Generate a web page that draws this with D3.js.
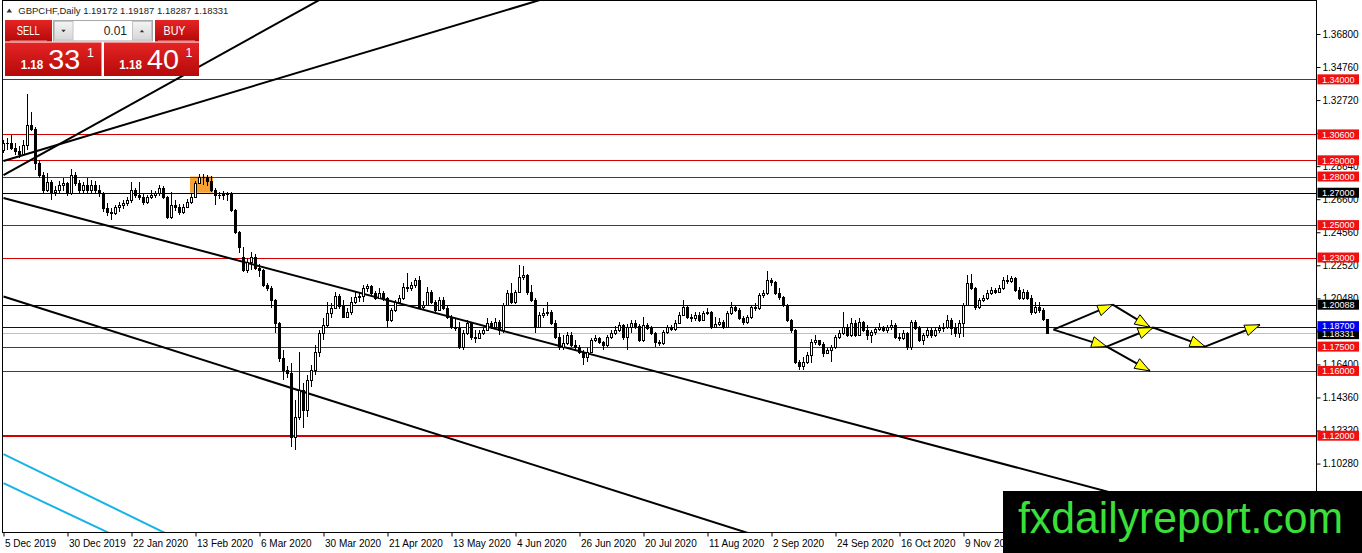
<!DOCTYPE html>
<html>
<head>
<meta charset="utf-8">
<script src="https://cdn.jsdelivr.net/npm/d3@7"></script>
<style>
  html, body { margin: 0; padding: 0; background: #fff; overflow: hidden; }
  svg { display: block; font-family: "Liberation Sans", Arial, sans-serif; }
</style>
</head>
<body>
<div id="chart"></div>
<script>

// daily bars, GBPCHF (bar 0 = 5 Dec 2019)
var opens = [1.2963,1.3007,1.3001,1.2976,1.2957,1.2933,1.2994,1.3118,1.3093,1.2883,
  1.2809,1.2716,1.2766,1.2704,1.2716,1.2747,1.2760,1.2698,1.2809,1.2760,
  1.2716,1.2747,1.2716,1.2747,1.2716,1.2698,1.2605,1.2581,1.2574,1.2611,
  1.2624,1.2636,1.2655,1.2716,1.2686,1.2673,1.2642,1.2673,1.2686,1.2698,
  1.2729,1.2673,1.2550,1.2624,1.2611,1.2581,1.2611,1.2642,1.2673,1.2760,
  1.2797,1.2791,1.2772,1.2716,1.2680,1.2686,1.2692,1.2698,1.2593,1.2457,
  1.2300,1.2222,1.2272,1.2302,1.2235,1.2222,1.2130,1.2111,1.2037,1.1895,
  1.1679,1.1605,1.1586,1.1191,1.1314,1.1481,1.1358,1.1543,1.1605,1.1716,
  1.1833,1.1883,1.1957,1.1988,1.2062,1.2000,1.1932,1.1963,1.2025,1.2056,
  1.2062,1.2111,1.2124,1.2080,1.2049,1.2080,1.2049,1.1913,1.1975,1.2025,
  1.2049,1.2117,1.2111,1.2130,1.2161,1.1994,1.2006,1.2086,1.2025,1.1975,
  1.2037,1.1988,1.1932,1.1870,1.1864,1.1747,1.1833,1.1895,1.1808,1.1802,
  1.1833,1.1852,1.1895,1.1870,1.1901,1.1852,1.2006,1.2080,1.2025,1.2086,
  1.2179,1.2191,1.2086,1.2037,1.1870,1.1944,1.1957,1.1963,1.1895,1.1808,
  1.1747,1.1771,1.1821,1.1759,1.1747,1.1716,1.1685,1.1716,1.1790,1.1802,
  1.1777,1.1759,1.1808,1.1833,1.1852,1.1883,1.1808,1.1870,1.1895,1.1876,
  1.1790,1.1883,1.1864,1.1833,1.1777,1.1771,1.1839,1.1870,1.1858,1.1895,
  1.1944,1.1994,1.1932,1.1926,1.1944,1.1913,1.1957,1.1963,1.1870,1.1889,
  1.1901,1.1870,1.1957,1.1994,1.1975,1.1926,1.1901,1.1932,1.1994,1.1988,
  1.2068,1.2080,1.2161,1.2148,1.2080,1.2056,1.2006,1.1913,1.1852,1.1654,
  1.1630,1.1654,1.1697,1.1777,1.1790,1.1765,1.1710,1.1728,1.1747,1.1808,
  1.1833,1.1870,1.1821,1.1895,1.1821,1.1901,1.1852,1.1821,1.1839,1.1858,
  1.1870,1.1852,1.1870,1.1883,1.1808,1.1802,1.1833,1.1747,1.1901,1.1864,
  1.1790,1.1821,1.1852,1.1821,1.1852,1.1864,1.1870,1.1913,1.1864,1.1833,
  1.1895,1.2006,1.2142,1.2111,1.1994,1.2037,1.2049,1.2080,1.2099,1.2086,
  1.2111,1.2161,1.2154,1.2173,1.2099,1.2049,1.2086,1.2049,1.1963,1.1994,
  1.1975,1.19172];

var highs = [1.3025,1.3038,1.3056,1.3007,1.2988,1.3025,1.3309,1.3198,1.3106,1.2902,
  1.2827,1.2821,1.2778,1.2741,1.2772,1.2791,1.2766,1.2846,1.2827,1.2778,
  1.2766,1.2791,1.2778,1.2772,1.2747,1.2704,1.2636,1.2605,1.2624,1.2642,
  1.2655,1.2673,1.2766,1.2729,1.2766,1.2692,1.2686,1.2716,1.2710,1.2747,
  1.2740,1.2680,1.2704,1.2655,1.2630,1.2630,1.2661,1.2692,1.2772,1.2815,
  1.2815,1.2809,1.2803,1.2729,1.2704,1.2710,1.2704,1.2704,1.2599,1.2463,
  1.2364,1.2296,1.2333,1.2321,1.2259,1.2228,1.2142,1.2124,1.2043,1.1901,
  1.1728,1.1629,1.1648,1.1419,1.1716,1.1524,1.1574,1.1636,1.1759,1.1852,
  1.1926,1.2025,1.2018,1.2086,1.2074,1.2037,1.1988,1.2056,1.2086,1.2086,
  1.2130,1.2136,1.2130,1.2093,1.2111,1.2093,1.2056,1.1988,1.2037,1.2068,
  1.2142,1.2204,1.2148,1.2173,1.2185,1.2031,1.2117,1.2099,1.2037,1.2056,
  1.2056,1.2000,1.1944,1.1926,1.1901,1.1852,1.1913,1.1901,1.1852,1.1852,
  1.1864,1.1926,1.1907,1.1926,1.1913,1.2018,1.2099,1.2142,1.2099,1.2253,
  1.2247,1.2197,1.2130,1.2049,1.1963,1.1988,1.2025,1.1975,1.1913,1.1833,
  1.1821,1.1839,1.1839,1.1790,1.1759,1.1728,1.1740,1.1802,1.1821,1.1808,
  1.1783,1.1821,1.1852,1.1876,1.1901,1.1889,1.1889,1.1913,1.1913,1.1889,
  1.1932,1.1895,1.1876,1.1839,1.1790,1.1852,1.1883,1.1883,1.1913,1.1963,
  1.2037,1.2006,1.1950,1.1963,1.1963,1.1969,1.1988,1.1969,1.1932,1.1926,
  1.1913,1.1969,1.2025,1.2006,1.1988,1.1938,1.1944,1.2006,1.2018,1.2080,
  1.2099,1.2216,1.2173,1.2154,1.2111,1.2062,1.2012,1.1920,1.1858,1.1667,
  1.1685,1.1716,1.1796,1.1821,1.1790,1.1777,1.1740,1.1759,1.1821,1.1852,
  1.1963,1.1889,1.1926,1.1913,1.1926,1.1907,1.1883,1.1852,1.1870,1.1895,
  1.1876,1.1883,1.1913,1.1895,1.1833,1.1852,1.1840,1.1913,1.1913,1.1876,
  1.1833,1.1870,1.1864,1.1870,1.1883,1.1895,1.1944,1.1926,1.1895,1.1913,
  1.2018,1.2191,1.2197,1.2117,1.2049,1.2068,1.2099,1.2117,1.2111,1.2130,
  1.2179,1.2191,1.2185,1.2180,1.2117,1.2105,1.2099,1.2068,1.2025,1.2025,
  1.1988,1.19187];

var lows = [1.2945,1.2963,1.2963,1.2933,1.2914,1.2925,1.2963,1.3081,1.2840,1.2791,
  1.2698,1.2704,1.2655,1.2680,1.2692,1.2710,1.2680,1.2686,1.2741,1.2692,
  1.2698,1.2698,1.2698,1.2692,1.2673,1.2581,1.2556,1.2531,1.2562,1.2581,
  1.2599,1.2618,1.2636,1.2667,1.2655,1.2624,1.2630,1.2661,1.2667,1.2680,
  1.2661,1.2537,1.2540,1.2587,1.2562,1.2568,1.2605,1.2630,1.2667,1.2753,
  1.2747,1.2741,1.2704,1.2624,1.2661,1.2655,1.2648,1.2581,1.2445,1.2327,
  1.2210,1.2204,1.2222,1.2222,1.2179,1.2117,1.2093,1.1988,1.1833,1.1654,
  1.1543,1.1555,1.1129,1.1110,1.1296,1.1246,1.1314,1.1500,1.1574,1.1685,
  1.1790,1.1870,1.1926,1.1982,1.1982,1.1926,1.1925,1.1944,1.2012,1.2025,
  1.2025,1.2086,1.2068,1.2037,1.2043,1.2031,1.1864,1.1901,1.1963,1.2012,
  1.2037,1.2086,1.2093,1.2111,1.1982,1.1982,1.2000,1.2012,1.1963,1.1969,
  1.1975,1.1920,1.1858,1.1845,1.1734,1.1728,1.1821,1.1790,1.1771,1.1796,
  1.1821,1.1845,1.1858,1.1864,1.1821,1.1833,1.2000,1.2012,1.2012,1.2080,
  1.2161,1.2068,1.2025,1.1833,1.1864,1.1926,1.1938,1.1883,1.1796,1.1728,
  1.1728,1.1759,1.1747,1.1728,1.1703,1.1636,1.1654,1.1710,1.1777,1.1765,
  1.1728,1.1747,1.1796,1.1821,1.1839,1.1790,1.1728,1.1833,1.1858,1.1777,
  1.1780,1.1852,1.1821,1.1747,1.1753,1.1759,1.1827,1.1845,1.1845,1.1889,
  1.1938,1.1920,1.1901,1.1907,1.1901,1.1907,1.1944,1.1858,1.1864,1.1876,
  1.1858,1.1864,1.1944,1.1963,1.1913,1.1883,1.1889,1.1920,1.1969,1.1975,
  1.2049,1.2068,1.2124,1.2068,1.2037,1.1994,1.1901,1.1833,1.1642,1.1605,
  1.1605,1.1642,1.1648,1.1759,1.1753,1.1685,1.1703,1.1654,1.1734,1.1796,
  1.1821,1.1808,1.1808,1.1808,1.1815,1.1839,1.1790,1.1771,1.1821,1.1845,
  1.1839,1.1833,1.1852,1.1796,1.1783,1.1790,1.1728,1.1728,1.1852,1.1777,
  1.1759,1.1802,1.1802,1.1808,1.1833,1.1839,1.1858,1.1821,1.1808,1.1802,
  1.1808,1.2000,1.2099,1.1975,1.1982,1.2025,1.2037,1.2068,1.2074,1.2080,
  1.2099,1.2136,1.2142,1.2086,1.2037,1.2037,1.2037,1.1944,1.1950,1.1957,
  1.1907,1.18287];

var closes = [1.3007,1.3001,1.2976,1.2957,1.2933,1.2994,1.3118,1.3093,1.2883,1.2809,
  1.2716,1.2766,1.2704,1.2716,1.2747,1.2760,1.2698,1.2809,1.2760,1.2716,
  1.2747,1.2716,1.2747,1.2716,1.2698,1.2605,1.2581,1.2574,1.2611,1.2624,
  1.2636,1.2655,1.2716,1.2686,1.2673,1.2642,1.2673,1.2686,1.2698,1.2729,
  1.2673,1.2550,1.2624,1.2611,1.2581,1.2611,1.2642,1.2673,1.2760,1.2797,
  1.2791,1.2772,1.2716,1.2680,1.2686,1.2692,1.2698,1.2593,1.2457,1.2364,
  1.2222,1.2272,1.2302,1.2235,1.2222,1.2130,1.2111,1.2037,1.1895,1.1679,
  1.1605,1.1586,1.1191,1.1314,1.1481,1.1358,1.1543,1.1605,1.1716,1.1833,
  1.1883,1.1957,1.1988,1.2062,1.2000,1.1932,1.1963,1.2025,1.2056,1.2062,
  1.2111,1.2124,1.2080,1.2049,1.2080,1.2049,1.1913,1.1975,1.2025,1.2049,
  1.2117,1.2111,1.2130,1.2161,1.1994,1.2006,1.2086,1.2025,1.1975,1.2037,
  1.1988,1.1932,1.1870,1.1864,1.1747,1.1833,1.1895,1.1808,1.1802,1.1833,
  1.1852,1.1895,1.1870,1.1901,1.1852,1.2006,1.2080,1.2025,1.2086,1.2179,
  1.2191,1.2086,1.2037,1.1870,1.1944,1.1957,1.1963,1.1895,1.1808,1.1747,
  1.1771,1.1821,1.1759,1.1747,1.1716,1.1685,1.1716,1.1790,1.1802,1.1777,
  1.1759,1.1808,1.1833,1.1852,1.1883,1.1808,1.1870,1.1895,1.1876,1.1790,
  1.1883,1.1864,1.1833,1.1777,1.1771,1.1839,1.1870,1.1858,1.1895,1.1944,
  1.1994,1.1932,1.1926,1.1944,1.1913,1.1957,1.1963,1.1870,1.1889,1.1901,
  1.1870,1.1957,1.1994,1.1975,1.1926,1.1901,1.1932,1.1994,1.1988,1.2068,
  1.2080,1.2161,1.2148,1.2080,1.2056,1.2006,1.1913,1.1852,1.1654,1.1630,
  1.1654,1.1697,1.1777,1.1790,1.1765,1.1710,1.1728,1.1747,1.1808,1.1833,
  1.1870,1.1821,1.1895,1.1821,1.1901,1.1852,1.1821,1.1839,1.1858,1.1870,
  1.1852,1.1870,1.1883,1.1808,1.1802,1.1833,1.1747,1.1901,1.1864,1.1790,
  1.1821,1.1852,1.1821,1.1852,1.1864,1.1870,1.1913,1.1864,1.1833,1.1895,
  1.2006,1.2142,1.2111,1.1994,1.2037,1.2049,1.2080,1.2099,1.2086,1.2111,
  1.2161,1.2154,1.2173,1.2099,1.2049,1.2086,1.2049,1.1963,1.1994,1.1975,
  1.19172,1.18331];

var askPrice = 1.18401;

// time axis labels (bar index -> label)
var xTickBars = [0,16,32,48,64,80,96,112,128,144,160,176,192,208,224,240,256];
var xTickLabels = ["5 Dec 2019","30 Dec 2019","22 Jan 2020","13 Feb 2020","6 Mar 2020",
  "30 Mar 2020","21 Apr 2020","13 May 2020","4 Jun 2020","26 Jun 2020","20 Jul 2020",
  "11 Aug 2020","2 Sep 2020","24 Sep 2020","16 Oct 2020","9 Nov 2020","1 Dec 2020"];

// price axis ticks
var yTicks = [1.368,1.3476,1.3272,1.3068,1.2864,1.266,1.2456,1.2252,1.2048,1.1844,
  1.164,1.1436,1.1232,1.1028];

// horizontal levels
var redLevels = [1.34,1.306,1.29,1.28,1.25,1.23,1.175,1.16,1.12];
var blackLevels = [1.27,1.20088];
var blueLevels = [1.187];

// orange rectangle (bars, prices)
var boxBars = [47,52];
var boxPrices = [1.28,1.27];

// trend lines as [bar, price] pairs (rays to the right)
var trendLines = [
  [[0,1.2809],[77.5,1.3870]],
  [[0,1.2896],[132.5,1.3878]],
  [[0,1.2667],[281.25,1.0820]],
  [[0,1.2059],[185.5,1.0604]]
];
var cyanLines = [
  [[0,1.1086],[40,1.0604]],
  [[0,1.0907],[26,1.0604]]
];

// projected path arrows
var arrowSegments = [
  [[262.5,1.1855],[277.3,1.2009]],
  [[277.3,1.2009],[286.6,1.1870]],
  [[262.5,1.1855],[275.8,1.1750]],
  [[275.8,1.1750],[287.4,1.1868]],
  [[275.8,1.1750],[286.6,1.1600]],
  [[287.4,1.1868],[300.4,1.1750]],
  [[300.4,1.1750],[314.1,1.1885]]
];

var symbol = "GBPCHF,Daily";
var lotSize = "0.01";

var svgWidth = 1362;
var svgHeight = 553;
var plotRight = 1316.5;
var plotBottom = 532.5;
var font = "Liberation Sans, Arial, sans-serif";

var svg = d3.select("#chart").append("svg")
  .attr("width", svgWidth)
  .attr("height", svgHeight);

var x = d3.scaleLinear().domain([0, 261]).range([3.5, 1047.5]);
var y = d3.scaleLinear().domain([1.368, 1.12]).range([34, 435.7]);
var fmt = d3.format(".5f");

var defs = svg.append("defs");
defs.append("clipPath").attr("id", "plotClip")
  .append("rect").attr("x", 3).attr("y", 1).attr("width", 1313).attr("height", 531);
var grad = defs.append("linearGradient").attr("id", "redGrad")
  .attr("x1", 0).attr("y1", 0).attr("x2", 0).attr("y2", 1);
grad.append("stop").attr("offset", "0%").attr("stop-color", "#e52424");
grad.append("stop").attr("offset", "100%").attr("stop-color", "#b50909");
var greyGrad = defs.append("linearGradient").attr("id", "greyGrad")
  .attr("x1", 0).attr("y1", 0).attr("x2", 0).attr("y2", 1);
greyGrad.append("stop").attr("offset", "0%").attr("stop-color", "#f4f4f4");
greyGrad.append("stop").attr("offset", "100%").attr("stop-color", "#d6d6d6");

var plotG = svg.append("g").attr("clip-path", "url(#plotClip)");

// orange rectangle
plotG.append("rect")
  .attr("x", x(boxBars[0]) - 1.5)
  .attr("width", x(boxBars[1]) - x(boxBars[0]) + 3)
  .attr("y", y(boxPrices[0]))
  .attr("height", y(boxPrices[1]) - y(boxPrices[0]))
  .attr("fill", "#f7a034");

// horizontal levels
var levels = [];
redLevels.forEach(function(p) { levels.push({p: p, line: "#d40000", label: "#f01010"}); });
blackLevels.forEach(function(p) { levels.push({p: p, line: "#000", label: "#000"}); });
blueLevels.forEach(function(p) { levels.push({p: p, line: "#0000a8", label: "#0000f0"}); });
var lastClose = closes[closes.length - 1];

plotG.append("line")
  .attr("x1", 3).attr("x2", plotRight)
  .attr("y1", Math.round(y(lastClose)) + 0.5).attr("y2", Math.round(y(lastClose)) + 0.5)
  .attr("stroke", "#c0c0c0").attr("stroke-width", 1);

plotG.selectAll("line.level")
  .data(levels)
  .enter()
  .append("line")
  .attr("class", "level")
  .attr("x1", 3).attr("x2", plotRight)
  .attr("y1", d => d.p === 1.12 ? Math.round(y(d.p)) : Math.round(y(d.p)) + 0.5)
  .attr("y2", d => d.p === 1.12 ? Math.round(y(d.p)) : Math.round(y(d.p)) + 0.5)
  .attr("stroke", d => d.line)
  .attr("stroke-width", d => d.p === 1.12 ? 2 : 1);

// trend lines, extended to the right and clipped
function rayPath(seg) {
  var a = seg[0], b = seg[1];
  var slope = (b[1] - a[1]) / (b[0] - a[0]);
  var farBar = 420;
  return "M" + x(a[0]) + "," + y(a[1]) + "L" + x(farBar) + "," + y(a[1] + slope * (farBar - a[0]));
}

plotG.selectAll("path.trend")
  .data(trendLines)
  .enter()
  .append("path")
  .attr("class", "trend")
  .attr("d", rayPath)
  .attr("stroke", "#000")
  .attr("stroke-width", 2)
  .attr("fill", "none");

plotG.selectAll("path.cyan")
  .data(cyanLines)
  .enter()
  .append("path")
  .attr("class", "cyan")
  .attr("d", rayPath)
  .attr("stroke", "#16b4e6")
  .attr("stroke-width", 2)
  .attr("fill", "none");

// candles
var bars = d3.range(closes.length);

plotG.selectAll("line.wick")
  .data(bars)
  .enter()
  .append("line")
  .attr("class", "wick")
  .attr("x1", i => x(i)).attr("x2", i => x(i))
  .attr("y1", i => y(highs[i])).attr("y2", i => y(lows[i]))
  .attr("stroke", "#000")
  .attr("stroke-width", 1)
  .attr("shape-rendering", "crispEdges");

plotG.selectAll("path.body")
  .data(bars)
  .enter()
  .append("path")
  .attr("class", "body")
  .attr("d", function(i) {
    var top = y(Math.max(opens[i], closes[i]));
    var bot = y(Math.min(opens[i], closes[i]));
    var x0 = x(i) - 1, x1 = x(i) + 1;
    return "M" + x0 + "," + top + "H" + x1 + "V" + bot + "H" + x0 + "Z";
  })
  .attr("fill", i => closes[i] > opens[i] ? "#fff" : "#000")
  .attr("stroke", "#000")
  .attr("stroke-width", 1)
  .attr("shape-rendering", "crispEdges");

// arrows
function pt(d) { return [x(d[0]), y(d[1])]; }

var arrowG = svg.append("g");
arrowSegments.forEach(function(seg) {
  var p0 = pt(seg[0]), p1 = pt(seg[1]);
  arrowG.append("line")
    .attr("x1", p0[0]).attr("y1", p0[1])
    .attr("x2", p1[0]).attr("y2", p1[1])
    .attr("stroke", "#000")
    .attr("stroke-width", 2);
  var dx = p1[0] - p0[0], dy = p1[1] - p0[1], len = Math.hypot(dx, dy);
  var ux = dx / len, uy = dy / len;
  var bx = p1[0] - ux * 15, by = p1[1] - uy * 15;
  var head = [[p1[0], p1[1]], [bx - uy * 5.5, by + ux * 5.5], [bx + uy * 5.5, by - ux * 5.5]];
  arrowG.append("path")
    .attr("d", d3.line()(head) + "Z")
    .attr("fill", "#ffff00")
    .attr("stroke", "#000")
    .attr("stroke-width", 1);
});

// price axis: tick texts that sit fully under a level label are hidden
var labelPrices = levels.map(d => d.p).concat([lastClose]);

var yAxis = d3.axisRight(y).tickValues(yTicks).tickFormat(fmt).tickSize(4).tickPadding(2);
svg.append("g")
  .attr("transform", "translate(" + plotRight + ",0)")
  .attr("font-size", 9)
  .attr("font-family", font)
  .call(yAxis)
  .call(g => g.select(".domain").remove())
  .call(g => g.selectAll(".tick")
    .filter(d => labelPrices.some(p => Math.abs(y(p) - y(d)) < 5))
    .select("text").remove());

var xAxis = d3.axisBottom(x)
  .tickValues(xTickBars)
  .tickFormat((d, k) => xTickLabels[k])
  .tickSize(4)
  .tickPadding(3);
svg.append("g")
  .attr("transform", "translate(0," + plotBottom + ")")
  .attr("font-size", 9)
  .attr("font-family", font)
  .call(xAxis)
  .call(g => g.select(".domain").remove())
  .call(g => g.selectAll("text").attr("text-anchor", "start").attr("x", 1));

// frame
svg.append("path")
  .attr("d", "M2.5,0.5H" + plotRight + "V" + plotBottom + "H2.5Z")
  .attr("fill", "none")
  .attr("stroke", "#000")
  .attr("stroke-width", 1)
  .attr("shape-rendering", "crispEdges");

// level labels on the axis
var labelG = svg.append("g").attr("font-family", font).attr("font-size", 9);
function axisLabel(p, color, dy) {
  labelG.append("rect")
    .attr("x", 1317.5).attr("y", y(p) - 5 + dy)
    .attr("width", 41.5).attr("height", 10)
    .attr("fill", color);
  labelG.append("text")
    .attr("x", 1322).attr("y", y(p) + 3.3 + dy)
    .attr("fill", "#fff")
    .text(fmt(p));
}
levels.filter(d => blueLevels.indexOf(d.p) < 0).forEach(d => axisLabel(d.p, d.label, 0));
axisLabel(lastClose, "#000", 1);
levels.filter(d => blueLevels.indexOf(d.p) >= 0).forEach(d => axisLabel(d.p, d.label, -1));

// header line
var last = closes.length - 1;
svg.append("path")
  .attr("d", "M6.5,12.5L12,12.5L9.25,8.5Z")
  .attr("fill", "#333");
svg.append("text")
  .attr("x", 18.3).attr("y", 14)
  .attr("font-family", font).attr("font-size", 9.5)
  .attr("fill", "#222")
  .attr("textLength", 210)
  .attr("lengthAdjust", "spacingAndGlyphs")
  .text(symbol + "  " + [opens[last], highs[last], lows[last], closes[last]].map(fmt).join(" "));

// one-click trading panel
var panel = svg.append("g").attr("font-family", font);
panel.append("rect").attr("x", 5).attr("y", 20).attr("width", 47).attr("height", 21.5).attr("fill", "url(#redGrad)");
panel.append("rect").attr("x", 155).attr("y", 20).attr("width", 44).attr("height", 21.5).attr("fill", "url(#redGrad)");
panel.append("line").attr("x1", 10).attr("x2", 47).attr("y1", 41).attr("y2", 41).attr("stroke", "#f29a9a").attr("stroke-width", 1);
panel.append("line").attr("x1", 158).attr("x2", 195).attr("y1", 41).attr("y2", 41).attr("stroke", "#f29a9a").attr("stroke-width", 1);
panel.append("text").attr("x", 28.3).attr("y", 35.3).attr("text-anchor", "middle")
  .attr("font-size", 12.5).attr("fill", "#fff").attr("textLength", 23).attr("lengthAdjust", "spacingAndGlyphs").text("SELL");
panel.append("text").attr("x", 174.5).attr("y", 35.3).attr("text-anchor", "middle")
  .attr("font-size", 12.5).attr("fill", "#fff").attr("textLength", 22).attr("lengthAdjust", "spacingAndGlyphs").text("BUY");

panel.append("rect").attr("x", 53.5).attr("y", 20.5).attr("width", 99).attr("height", 20.5)
  .attr("fill", "#fff").attr("stroke", "#a8a8a8");
panel.append("rect").attr("x", 54.5).attr("y", 21.5).attr("width", 18.5).attr("height", 18.5)
  .attr("fill", "url(#greyGrad)").attr("stroke", "#c4c4c4");
panel.append("rect").attr("x", 132.5).attr("y", 21.5).attr("width", 19).attr("height", 18.5)
  .attr("fill", "url(#greyGrad)").attr("stroke", "#c4c4c4");
panel.append("path").attr("d", "M61.3,29.8L65.7,29.8L63.5,32.3Z").attr("fill", "#333");
panel.append("path").attr("d", "M139.8,32.3L144.2,32.3L142,29.8Z").attr("fill", "#333");
panel.append("text").attr("x", 127).attr("y", 35).attr("text-anchor", "end")
  .attr("font-size", 12).attr("fill", "#222").text(lotSize);

panel.append("rect").attr("x", 5).attr("y", 42.5).attr("width", 96.5).attr("height", 33.5).attr("fill", "url(#redGrad)");
panel.append("rect").attr("x", 104).attr("y", 42.5).attr("width", 95).attr("height", 33.5).attr("fill", "url(#redGrad)");

function priceText(str, x0) {
  panel.append("text").attr("x", x0).attr("y", 69.3)
    .attr("font-size", 12).attr("font-weight", "bold").attr("fill", "#fff")
    .attr("textLength", 22.6).attr("lengthAdjust", "spacingAndGlyphs")
    .text(str.slice(0, 4));
  panel.append("text").attr("x", x0 + 27.6).attr("y", 69.3)
    .attr("font-size", 28).attr("fill", "#fff")
    .attr("textLength", 32).attr("lengthAdjust", "spacingAndGlyphs")
    .text(str.slice(4, 6));
  panel.append("text").attr("x", x0 + 66.3).attr("y", 56.5)
    .attr("font-size", 12.5).attr("fill", "#fff")
    .text(str.slice(6, 7));
}
priceText(fmt(lastClose), 20.7);
priceText(fmt(askPrice), 119.3);

// watermark
svg.append("rect").attr("x", 1003).attr("y", 491).attr("width", 359).attr("height", 62).attr("fill", "#000");
svg.append("text")
  .attr("x", 1018).attr("y", 533)
  .attr("font-family", font).attr("font-size", 44)
  .attr("fill", "#3ae03a")
  .attr("textLength", 325)
  .attr("lengthAdjust", "spacingAndGlyphs")
  .text("fxdailyreport.com");

</script>
</body>
</html>
